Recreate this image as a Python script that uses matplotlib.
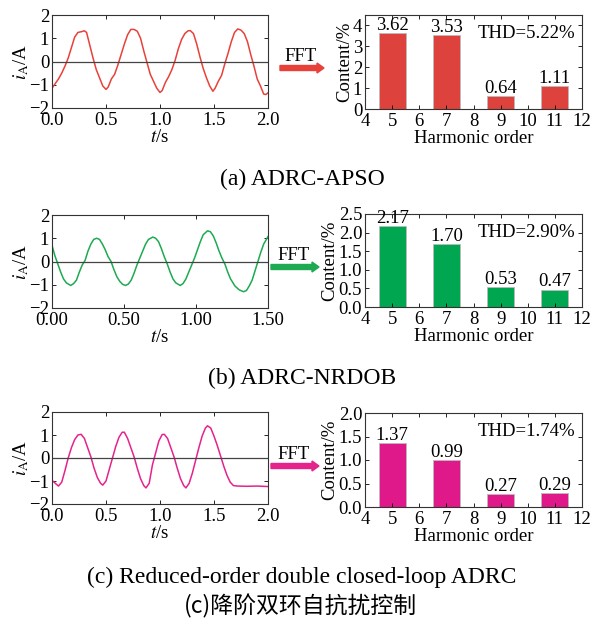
import matplotlib
matplotlib.use("Agg")
import matplotlib.pyplot as plt
from matplotlib.patches import FancyArrow

plt.rcParams['font.family'] = ['Liberation Serif', 'Noto Sans CJK SC', 'DejaVu Sans']
plt.rcParams['mathtext.fontset'] = 'stix'
plt.rcParams['font.size'] = 13.5

# ---------------- data ----------------
t_a = [0.00, 0.03, 0.06, 0.09, 0.12, 0.15, 0.18, 0.21, 0.24, 0.27, 0.30, 0.32, 0.35, 0.38, 0.41, 0.44,
       0.47, 0.50, 0.52, 0.55, 0.58, 0.61, 0.64, 0.67, 0.70, 0.73, 0.76, 0.79, 0.82, 0.85, 0.88, 0.91,
       0.94, 0.97, 1.00, 1.02, 1.05, 1.08, 1.11, 1.14, 1.17, 1.20, 1.23, 1.26, 1.28, 1.31, 1.34, 1.37,
       1.40, 1.43, 1.46, 1.49, 1.51, 1.54, 1.57, 1.60, 1.63, 1.66, 1.69, 1.72, 1.75, 1.78, 1.81, 1.84,
       1.87, 1.90, 1.93, 1.96, 1.98, 2.00]
i_a = [-1.15, -0.95, -0.75, -0.50, -0.20, 0.15, 0.60, 1.05, 1.25, 1.28, 1.32, 1.25, 0.70, 0.15, -0.35, -0.70,
       -1.05, -1.20, -1.10, -0.75, -0.55, -0.15, 0.30, 0.75, 1.15, 1.38, 1.38, 1.30, 1.00, 0.45, -0.05, -0.55,
       -0.85, -1.15, -1.33, -1.25, -0.90, -0.65, -0.35, 0.05, 0.55, 0.95, 1.20, 1.32, 1.33, 1.20, 0.75, 0.20,
       -0.30, -0.70, -1.05, -1.28, -1.15, -0.85, -0.60, -0.10, 0.35, 0.85, 1.25, 1.40, 1.35, 1.20, 0.85, 0.30,
       -0.20, -0.75, -1.05, -1.40, -1.42, -1.35]

t_b = [0.00, 0.02, 0.04, 0.06, 0.08, 0.10, 0.13, 0.15, 0.17, 0.19, 0.21, 0.23, 0.25, 0.27, 0.29, 0.31,
       0.33, 0.35, 0.37, 0.39, 0.41, 0.43, 0.45, 0.47, 0.49, 0.51, 0.53, 0.55, 0.57, 0.59, 0.61, 0.63,
       0.65, 0.67, 0.70, 0.72, 0.74, 0.76, 0.78, 0.80, 0.82, 0.84, 0.86, 0.89, 0.91, 0.93, 0.95, 0.97,
       0.99, 1.01, 1.03, 1.05, 1.08, 1.10, 1.12, 1.14, 1.16, 1.18, 1.20, 1.22, 1.24, 1.27, 1.30, 1.33,
       1.35, 1.37, 1.39, 1.41, 1.43, 1.45, 1.47, 1.50]
i_b = [0.70, 0.25, -0.10, -0.45, -0.75, -0.92, -1.03, -0.95, -0.80, -0.45, -0.15, 0.05, 0.45, 0.75, 0.95, 1.00,
       0.95, 0.75, 0.50, 0.20, 0.00, -0.35, -0.65, -0.85, -0.98, -1.03, -0.97, -0.80, -0.50, -0.15, 0.15, 0.45,
       0.75, 0.95, 1.05, 1.00, 0.85, 0.55, 0.20, -0.10, -0.45, -0.75, -0.92, -1.03, -0.95, -0.75, -0.45, -0.15,
       0.15, 0.50, 0.85, 1.15, 1.32, 1.28, 1.10, 0.80, 0.45, 0.15, -0.10, -0.45, -0.75, -1.05, -1.22, -1.30,
       -1.25, -1.05, -0.80, -0.40, 0.00, 0.40, 0.75, 1.07]

t_c = [0.00, 0.03, 0.06, 0.09, 0.12, 0.15, 0.18, 0.21, 0.24, 0.27, 0.30, 0.33, 0.36, 0.39, 0.42, 0.45,
       0.47, 0.50, 0.53, 0.56, 0.59, 0.62, 0.65, 0.67, 0.70, 0.73, 0.76, 0.79, 0.82, 0.85, 0.87, 0.90,
       0.93, 0.95, 0.99, 1.02, 1.04, 1.07, 1.10, 1.13, 1.16, 1.19, 1.22, 1.24, 1.27, 1.30, 1.33, 1.36,
       1.39, 1.42, 1.44, 1.47, 1.50, 1.53, 1.56, 1.59, 1.62, 1.65, 1.68, 1.72, 1.80, 1.90, 2.00]
i_c = [-0.97, -1.10, -1.22, -1.05, -0.55, 0.00, 0.45, 0.80, 1.00, 1.03, 0.85, 0.45, 0.05, -0.45, -0.85, -1.10,
       -1.18, -1.00, -0.50, 0.00, 0.50, 0.90, 1.12, 1.12, 0.85, 0.45, 0.05, -0.45, -0.90, -1.20, -1.30, -1.10,
       -0.30, 0.05, 0.75, 1.02, 1.03, 0.85, 0.45, 0.05, -0.45, -0.90, -1.20, -1.30, -1.10, -0.65, -0.10, 0.45,
       0.95, 1.30, 1.40, 1.30, 0.95, 0.55, 0.10, -0.35, -0.75, -1.05, -1.20, -1.22, -1.23, -1.22, -1.24]

orders = [5, 7, 9, 11]
content_a = [3.62, 3.53, 0.64, 1.11]
content_b = [2.17, 1.70, 0.53, 0.47]
content_c = [1.37, 0.99, 0.27, 0.29]
thd = ["5.22", "2.90", "1.74"]

captions = ["(a) ADRC-APSO", "(b) ADRC-NRDOB", "(c) Reduced-order double closed-loop ADRC"]
caption_cn = "(c)降阶双环自抗扰控制"

wave_x_ticks = [[0.0, 0.5, 1.0, 1.5, 2.0], [0.0, 0.5, 1.0, 1.5], [0.0, 0.5, 1.0, 1.5, 2.0]]
wave_x_fmt = ["{:.1f}", "{:.2f}", "{:.1f}"]
wave_x_max = [2.0, 1.5, 2.0]
bar_ymax = [4.5, 2.5, 2.0]
bar_yticks = [[0, 1, 2, 3, 4], [0.0, 0.5, 1.0, 1.5, 2.0, 2.5], [0.0, 0.5, 1.0, 1.5, 2.0]]
bar_y_fmt = ["{:.0f}", "{:.1f}", "{:.1f}"]

wave_colors = ["#E8413A", "#1DAA52", "#E4238C"]
bar_colors = ["#DE423C", "#00A650", "#E0198A"]

# ---------------- figure ----------------
W, H = 592, 625
fig = plt.figure(figsize=(W / 100, H / 100), dpi=100)

def fx(px):
    return px / W

def fy(py):
    return 1 - py / H

wave_rows = [(15, 108), (215, 308), (412, 504)]
bar_rows = [(15, 109), (214, 307), (413, 507)]
waves = [(t_a, i_a), (t_b, i_b), (t_c, i_c)]
contents = [content_a, content_b, content_c]
arrow_y = [68, 267, 466]
caption_y = [179, 378, 577]
FS = 13.5

def style(ax):
    ax.tick_params(direction='in', top=True, right=True, length=3, width=0.6, labelsize=FS)
    ax.tick_params(axis='x', pad=3)
    ax.tick_params(axis='y', pad=2)
    for s in ax.spines.values():
        s.set_linewidth(0.8)
        s.set_color('#333333')

for k in range(3):
    # waveform
    top, bot = wave_rows[k]
    ax = fig.add_axes([fx(52), fy(bot), fx(268) - fx(52), fy(top) - fy(bot)])
    t, i = waves[k]
    ax.plot(t, i, color=wave_colors[k], lw=1.1)
    ax.axhline(0, color='#444444', lw=0.9)
    ax.set_xlim(0, wave_x_max[k])
    ax.set_ylim(-2, 2)
    ax.set_xticks(wave_x_ticks[k])
    ax.set_xticklabels([wave_x_fmt[k].format(v) for v in wave_x_ticks[k]])
    ax.set_yticks([-2, -1, 0, 1, 2])
    ax.set_yticklabels(["\u22122", "\u22121", "0", "1", "2"])
    ax.set_xlabel(r"$t$/s", fontsize=FS, labelpad=0)
    ax.set_ylabel(r"$i_{\mathrm{A}}$/A", fontsize=FS, labelpad=-1)
    style(ax)

    # bar chart
    top, bot = bar_rows[k]
    bx = fig.add_axes([fx(365), fy(bot), fx(582) - fx(365), fy(top) - fy(bot)])
    vals = contents[k]
    bx.bar(orders, vals, width=1.0, color=bar_colors[k], edgecolor='#BBBBBB', linewidth=0.6)
    for o, v in zip(orders, vals):
        bx.text(o, v - bar_ymax[k] * 0.01, f"{v:.2f}", ha='center', va='bottom', fontsize=FS)
    bx.set_xlim(4, 12)
    bx.set_ylim(0, bar_ymax[k])
    bx.set_xticks(range(4, 13))
    bx.set_yticks(bar_yticks[k])
    bx.set_yticklabels([bar_y_fmt[k].format(v) for v in bar_yticks[k]])
    bx.set_xlabel("Harmonic order", fontsize=FS, labelpad=0)
    bx.set_ylabel("Content/%", fontsize=FS, labelpad=0)
    bx.text(0.97, 0.80, f"THD={thd[k]}%", transform=bx.transAxes, ha='right', va='center', fontsize=FS)
    style(bx)

    # FFT arrow
    ay = arrow_y[k]
    x0 = 280 if k == 0 else 271
    x1 = 324 if k == 0 else 319
    fig.text(fx((x0 + x1) / 2 - 1), fy(ay - 3), "FFT", ha='center', va='bottom', fontsize=13.5)
    arr = FancyArrow(fx(x0), fy(ay), fx(x1) - fx(x0), 0, width=5 / H, head_width=10 / H,
                     head_length=7 / W, length_includes_head=True, color=wave_colors[k],
                     transform=fig.transFigure)
    fig.add_artist(arr)

    fig.text(fx(302), fy(caption_y[k]), captions[k], ha='center', va='center', fontsize=17)

fig.text(fx(300), fy(606), caption_cn, ha='center', va='center', fontsize=16.5,
         family=['Noto Sans CJK SC', 'Liberation Serif'])

fig.savefig("out.png", dpi=100)
